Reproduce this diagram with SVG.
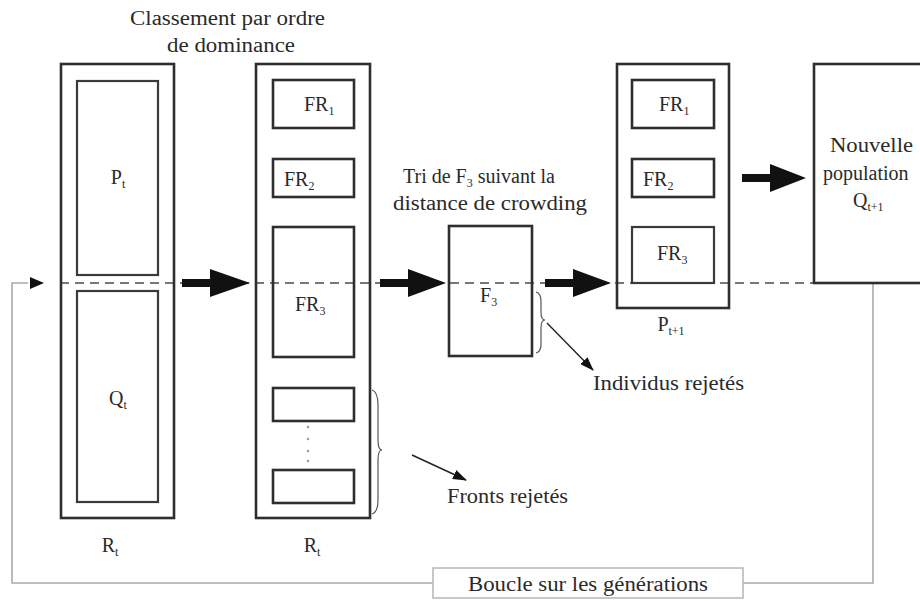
<svg xmlns="http://www.w3.org/2000/svg" width="920" height="601" viewBox="0 0 920 601">
<style>
  text{fill:#2a2a2a;font-size:20px;font-family:Liberation Serif, DejaVu Serif, Tinos, serif}
  .ob{fill:none;stroke:#2e2e2e;stroke-width:2.6}
  .ib{fill:none;stroke:#3a3a3a;stroke-width:2.2}
  .dash{fill:none;stroke:#777;stroke-width:2;stroke-dasharray:9 6}
  .loop{fill:none;stroke:#aaa;stroke-width:1.6}
  .thin{fill:none;stroke:#222;stroke-width:1.4}
  .brace{fill:none;stroke:#555;stroke-width:1.2}
  .c{text-anchor:middle}
  .sub{font-size:12px}
</style>
<defs>
  <marker id="sm" markerWidth="14" markerHeight="10" refX="13" refY="5" orient="auto" markerUnits="userSpaceOnUse">
    <path d="M0,0 L14,5 L0,10 z" fill="#111"/>
  </marker>
</defs>

<g id="connectors">
  <polyline class="loop" points="433,583 12,583 12,283 28,283"/>
  <path d="M30,277 L44,283 L30,289 z" fill="#111"/>
  <polyline class="loop" points="743,583 873,583 873,283"/>
  <line class="dash" x1="60" y1="283" x2="873" y2="283"/>
  <g fill="#111">
    <path d="M182,279 L210,279 L210,269 L250,283 L210,297 L210,287 L182,287 z"/>
    <path d="M380,279 L408,279 L408,269 L446,283 L408,297 L408,287 L380,287 z"/>
    <path d="M545,279 L573,279 L573,269 L611,283 L573,297 L573,287 L545,287 z"/>
    <path d="M742,174 L770,174 L770,164 L806,178 L770,192 L770,182 L742,182 z"/>
  </g>
  <path class="brace" d="M372,390 Q378,392 378,405 L378,440 Q378,450 382,450 Q378,450 378,460 L378,500 Q378,512 372,514"/>
  <path class="brace" d="M536,292 Q541,293 541,302 L541,312 Q541,320 545,320 Q541,320 541,328 L541,344 Q541,352 536,353"/>
  <line class="thin" x1="547" y1="323" x2="593" y2="370" marker-end="url(#sm)"/>
  <line class="thin" x1="412" y1="455" x2="466" y2="480" marker-end="url(#sm)"/>
</g>

<g id="title1"><text x="130" y="25" textLength="195" lengthAdjust="spacingAndGlyphs">Classement par ordre</text><text x="167" y="52" textLength="128" lengthAdjust="spacingAndGlyphs">de dominance</text></g>
<g id="title2"><text x="403" y="183">Tri de F<tspan class="sub" dy="4">3</tspan><tspan dy="-4"> suivant la</tspan></text><text x="393" y="210" textLength="194" lengthAdjust="spacingAndGlyphs">distance de crowding</text></g>

<g id="Rt">
  <rect class="ob" x="61" y="64" width="113" height="454"/>
  <text class="c" x="110" y="552">R<tspan class="sub" dy="4">t</tspan></text>
</g>
<g id="Pt">
  <rect class="ib" x="77" y="81" width="81" height="194"/>
  <text class="c" x="118" y="184">P<tspan class="sub" dy="4">t</tspan></text>
</g>
<g id="Qt">
  <rect class="ib" x="77" y="291" width="81" height="211"/>
  <text class="c" x="118" y="405">Q<tspan class="sub" dy="4">t</tspan></text>
</g>

<g id="Rt2">
  <rect class="ob" x="256" y="64" width="114" height="454"/>
  <text class="c" x="312" y="552">R<tspan class="sub" dy="4">t</tspan></text>
</g>
<g id="FR1a"><rect class="ob" x="273" y="80" width="81" height="48"/><text x="304" y="111">FR<tspan class="sub" dy="4">1</tspan></text></g>
<g id="FR2a"><rect class="ob" x="273" y="159" width="81" height="38"/><text x="284" y="186">FR<tspan class="sub" dy="4">2</tspan></text></g>
<g id="FR3a"><rect class="ob" x="273" y="227" width="81" height="130"/><text x="295" y="311">FR<tspan class="sub" dy="4">3</tspan></text></g>
<g id="F4"><rect class="ob" x="273" y="388" width="81" height="33"/></g>
<g id="F5"><rect class="ob" x="273" y="470" width="81" height="33"/></g>
<g id="dots" fill="#999"><circle cx="308" cy="427" r="1.2"/><circle cx="308" cy="439" r="1.2"/><circle cx="308" cy="451" r="1.2"/><circle cx="308" cy="461" r="1.2"/></g>

<g id="F3">
  <rect class="ob" x="449" y="226" width="83" height="130"/>
  <text x="480" y="302">F<tspan class="sub" dy="4">3</tspan></text>
</g>
<g id="indiv"><text x="593" y="390" textLength="151" lengthAdjust="spacingAndGlyphs">Individus rejetés</text></g>
<g id="fronts"><text x="447" y="503" textLength="121" lengthAdjust="spacingAndGlyphs">Fronts rejetés</text></g>

<g id="Pt1">
  <rect class="ob" x="617" y="64" width="112" height="244"/>
  <text class="c" x="671" y="331">P<tspan class="sub" dy="4">t+1</tspan></text>
</g>
<g id="FR1b"><rect class="ob" x="632" y="80" width="82" height="48"/><text x="659" y="111">FR<tspan class="sub" dy="4">1</tspan></text></g>
<g id="FR2b"><rect class="ob" x="632" y="159" width="82" height="38"/><text x="643" y="186">FR<tspan class="sub" dy="4">2</tspan></text></g>
<g id="FR3b"><rect class="ib" x="632" y="227" width="82" height="56"/><text x="657" y="260">FR<tspan class="sub" dy="4">3</tspan></text></g>

<g id="Qt1">
  <rect class="ob" x="814" y="64" width="120" height="219"/>
  <text x="830" y="152" textLength="83" lengthAdjust="spacingAndGlyphs">Nouvelle</text>
  <text x="823" y="180">population</text>
  <text x="853" y="207">Q<tspan class="sub" dy="4">t+1</tspan></text>
</g>

<g id="loopLabel">
  <rect x="433" y="568" width="310" height="30" fill="#fff" stroke="#bbb" stroke-width="1.6"/>
  <text x="468" y="591" textLength="240" lengthAdjust="spacingAndGlyphs">Boucle sur les générations</text>
</g>
</svg>
